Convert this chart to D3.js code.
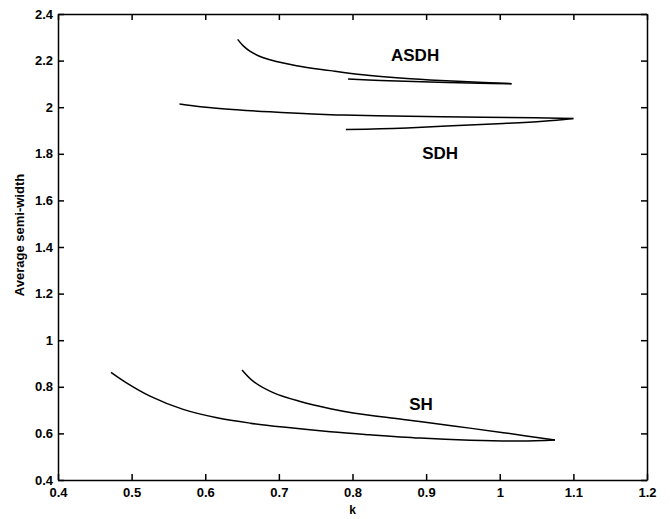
<!DOCTYPE html>
<html>
<head>
<meta charset="utf-8">
<script src="https://cdn.jsdelivr.net/npm/d3@7"></script>
<style>
  html, body { margin: 0; padding: 0; background: #fff; }
  svg { display: block; }
  text { font-family: "Liberation Sans", Arial, sans-serif; fill: #000; }
</style>
</head>
<body>
<svg id="chart" width="670" height="519"></svg>
<script>
// Average semi-width against k for the three solution families.
// Each family traces a fold: two branches meeting at a turning point.
const xTicks = [0.4, 0.5, 0.6, 0.7, 0.8, 0.9, 1, 1.1, 1.2];
const yTicks = [0.4, 0.6, 0.8, 1, 1.2, 1.4, 1.6, 1.8, 2, 2.2, 2.4];

const asdhUpperK = [0.644, 0.652, 0.661, 0.679, 0.724, 0.770, 0.814, 0.860, 0.905, 0.950, 1.016];
const asdhUpperW = [2.291, 2.262, 2.240, 2.212, 2.178, 2.157, 2.139, 2.126, 2.117, 2.110, 2.101];
const asdhLowerK = [0.794, 0.838, 0.905, 0.973, 1.016];
const asdhLowerW = [2.121, 2.115, 2.108, 2.103, 2.101];

const sdhUpperK = [0.565, 0.597, 0.643, 0.688, 0.733, 0.779, 0.833, 0.921, 1.048, 1.100];
const sdhUpperW = [2.014, 2.001, 1.989, 1.980, 1.973, 1.967, 1.963, 1.959, 1.955, 1.952];
const sdhLowerK = [0.791, 0.838, 0.874, 0.928, 1.005, 1.059, 1.100];
const sdhLowerW = [1.904, 1.907, 1.911, 1.919, 1.930, 1.940, 1.952];

const shLowerK = [0.472, 0.493, 0.525, 0.570, 0.616, 0.661, 0.706, 0.770, 0.824, 0.892, 0.960, 1.028, 1.075];
const shLowerW = [0.862, 0.817, 0.760, 0.703, 0.667, 0.644, 0.627, 0.607, 0.594, 0.580, 0.571, 0.567, 0.572];
const shUpperK = [0.650, 0.665, 0.693, 0.729, 0.770, 0.801, 0.869, 0.937, 1.005, 1.075];
const shUpperW = [0.872, 0.824, 0.774, 0.737, 0.706, 0.688, 0.660, 0.632, 0.603, 0.572];

const labels = [
  { text: "ASDH", k: 0.885, w: 2.224 },
  { text: "SDH",  k: 0.919, w: 1.803 },
  { text: "SH",   k: 0.893, w: 0.722 }
];

const margin = { left: 58, top: 14, right: 23, bottom: 39 };
const width = 670, height = 519;
const x0 = margin.left, x1 = width - margin.right;
const y0 = height - margin.bottom, y1 = margin.top;

const svg = d3.select("#chart");
const x = d3.scaleLinear().domain([0.4, 1.2]).range([x0, x1]);
const y = d3.scaleLinear().domain([0.4, 2.4]).range([y0, y1]);

const fmt = d => String(+d.toFixed(1));
const tickLen = 6;

// Axes with inward ticks on all four sides of the frame
svg.append("g").attr("transform", `translate(0,${y0})`)
  .call(d3.axisBottom(x).tickValues(xTicks).tickFormat(fmt).tickSizeInner(-tickLen).tickSizeOuter(0).tickPadding(8));
svg.append("g").attr("transform", `translate(0,${y1})`)
  .call(d3.axisTop(x).tickValues(xTicks).tickFormat("").tickSizeInner(-tickLen).tickSizeOuter(0));
svg.append("g").attr("transform", `translate(${x0},0)`)
  .call(d3.axisLeft(y).tickValues(yTicks).tickFormat(fmt).tickSizeInner(-tickLen).tickSizeOuter(0).tickPadding(5));
svg.append("g").attr("transform", `translate(${x1},0)`)
  .call(d3.axisRight(y).tickValues(yTicks).tickFormat("").tickSizeInner(-tickLen).tickSizeOuter(0));

svg.selectAll(".domain").attr("stroke", "#000").attr("stroke-width", 1.5);
svg.selectAll(".tick line").attr("stroke", "#000").attr("stroke-width", 1.5);
svg.selectAll(".tick text")
  .attr("font-family", "Liberation Sans, Arial, sans-serif")
  .attr("font-size", 13).attr("font-weight", "bold").attr("fill", "#000");

// Axis titles
svg.append("text")
  .attr("x", (x0 + x1) / 2).attr("y", 514)
  .attr("text-anchor", "middle").attr("font-size", 12).attr("font-weight", "bold").text("k");
svg.append("text")
  .attr("transform", `translate(24,235) rotate(-90)`)
  .attr("text-anchor", "middle").attr("font-size", 13).attr("font-weight", "bold")
  .text("Average semi-width");

// Curves
const line = d3.line().x(d => x(d[0])).y(d => y(d[1])).curve(d3.curveCatmullRom.alpha(0.5));
const branches = [
  [asdhUpperK, asdhUpperW], [asdhLowerK, asdhLowerW],
  [sdhUpperK, sdhUpperW], [sdhLowerK, sdhLowerW],
  [shLowerK, shLowerW], [shUpperK, shUpperW]
];
svg.append("g").selectAll("path")
  .data(branches.map(([ks, ws]) => ks.map((k, i) => [k, ws[i]])))
  .join("path")
  .attr("d", line)
  .attr("fill", "none").attr("stroke", "#000").attr("stroke-width", 1.5);

// Family labels
svg.append("g").selectAll("text")
  .data(labels)
  .join("text")
  .attr("x", d => x(d.k)).attr("y", d => y(d.w))
  .attr("text-anchor", "middle").attr("dominant-baseline", "central")
  .attr("font-size", 17).attr("font-weight", "bold")
  .text(d => d.text);
</script>
</body>
</html>
